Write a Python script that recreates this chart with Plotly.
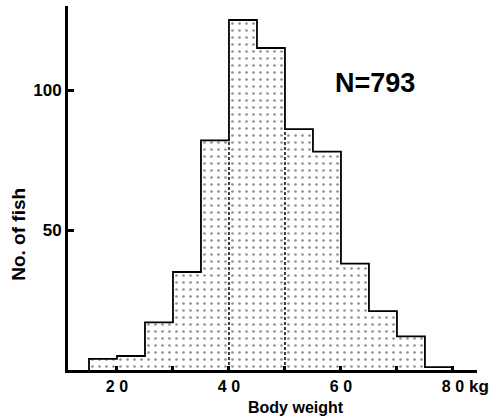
import plotly.graph_objects as go

# Data
bin_left = [15, 20, 25, 30, 35, 40, 45, 50, 55, 60, 65, 70, 75]
bin_width = 5
counts = [4, 5, 17, 35, 82, 125, 115, 86, 78, 38, 21, 12, 1]
dashed_edges = [40, 50]
x_tick_vals = [20, 30, 40, 50, 60, 70, 80]
x_tick_text = ["2 0", "", "4 0", "", "6 0", "", "8 0"]
y_tick_vals = [50, 100]
y_tick_text = ["50", "100"]
n_label = "N=793"

FONT = "Liberation Sans"

centers = [b + bin_width / 2 for b in bin_left]

fig = go.Figure()

# dotted fill
fig.add_trace(go.Bar(
    x=centers, y=counts, width=[bin_width] * len(counts),
    marker=dict(color="white", line=dict(width=0),
                pattern=dict(shape=".", fgcolor="#222", bgcolor="white",
                             size=7, solidity=0.12, fillmode="overlay")),
    showlegend=False, hoverinfo="skip"))

# outer step outline
edges_x = [bin_left[0]] + bin_left + [bin_left[-1] + bin_width]
edges_y = [0] + counts + [0]
fig.add_trace(go.Scatter(
    x=edges_x, y=edges_y, mode="lines", line=dict(color="black", width=1.8, shape="hv"),
    showlegend=False, hoverinfo="skip"))

# dashed internal lines
for e in dashed_edges:
    i = bin_left.index(e)
    h = min(counts[i - 1], counts[i])
    fig.add_trace(go.Scatter(
        x=[e, e], y=[0, h], mode="lines",
        line=dict(color="black", width=1.5, dash="3px,2px"),
        showlegend=False, hoverinfo="skip"))

bold = dict(family=FONT, size=17, color="black", weight="bold")

fig.update_layout(
    width=496, height=419,
    margin=dict(l=68, r=19, t=6, b=49),
    paper_bgcolor="white", plot_bgcolor="white",
    bargap=0,
    xaxis=dict(range=[11.25, 84.3], showgrid=False, zeroline=False,
               showline=True, linecolor="black", linewidth=3,
               ticks="inside", ticklen=4, tickwidth=3, tickcolor="black",
               tickvals=x_tick_vals, ticktext=x_tick_text,
               tickfont=dict(family=FONT, size=16, color="black", weight="bold")),
    yaxis=dict(range=[0, 130], showgrid=False, zeroline=False,
               showline=True, linecolor="black", linewidth=3,
               ticks="inside", ticklen=6, tickwidth=3, tickcolor="black",
               tickvals=y_tick_vals, ticktext=y_tick_text,
               tickfont=bold),
    annotations=[
        dict(text="Body weight", xref="paper", yref="paper", x=0.557, y=-0.104,
             showarrow=False, xanchor="center", yanchor="middle",
             font=dict(family=FONT, size=16, color="black", weight="bold")),
        dict(text="No. of fish", xref="paper", yref="paper", x=-0.12, y=0.374,
             showarrow=False, xanchor="center", yanchor="middle", textangle=-90,
             font=dict(family=FONT, size=19, color="black", weight="bold")),
        dict(text=n_label, xref="paper", yref="paper", x=0.75, y=0.788,
             showarrow=False, xanchor="center", yanchor="middle",
             font=dict(family=FONT, size=27, color="black", weight="bold")),
        dict(text="kg", xref="paper", yref="paper", x=1.005, y=-0.044,
             showarrow=False, xanchor="center", yanchor="middle",
             font=dict(family=FONT, size=17, color="black", weight="bold")),
    ],
)

fig.write_html("out.html")
